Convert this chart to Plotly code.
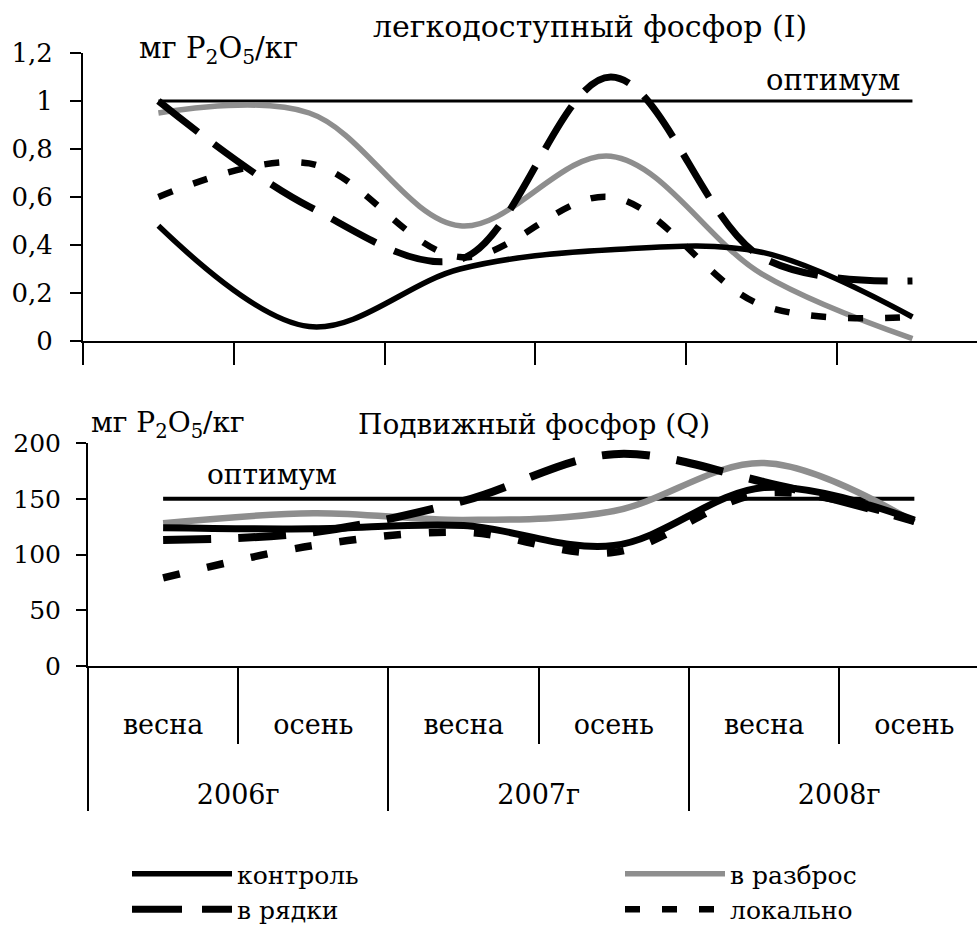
import plotly.graph_objects as go

# ---------------- data ----------------
seasons = ["весна", "осень", "весна", "осень", "весна", "осень"]
years = ["2006г", "2006г", "2007г", "2007г", "2008г", "2008г"]

# легкодоступный фосфор (I), мг P2O5/кг
control_I = [0.48, 0.06, 0.30, 0.38, 0.37, 0.10]
rows_I = [1.00, 0.56, 0.34, 1.10, 0.35, 0.25]
broadcast_I = [0.95, 0.95, 0.48, 0.77, 0.28, 0.01]
local_I = [0.60, 0.74, 0.35, 0.60, 0.15, 0.10]
optimum_I = [1, 1, 1, 1, 1, 1]

# Подвижный фосфор (Q), мг P2O5/кг
control_Q = [124, 123, 126, 108, 160, 131]
rows_Q = [113, 120, 148, 190, 165, 130]
broadcast_Q = [128, 137, 131, 139, 182, 129]
local_Q = [79, 108, 120, 102, 155, 130]
optimum_Q = [150, 150, 150, 150, 150, 150]

# ---------------- figure ----------------
W, H = 977, 928
FONT = "DejaVu Serif"

def py(p):
    return 1 - p / H

def px(p):
    return p / W

x_top = list(range(len(seasons)))
# outer (year) labels sit two text lines lower than the season labels
year_labels = ["<br><br>" + y for y in years]
x_bot = [year_labels, seasons]

GREY = "#8e8e8e"

fig = go.Figure()

styles_top = {
    "контроль": dict(color="black", width=5.5, dash="solid"),
    "в разброс": dict(color=GREY, width=5.5, dash="solid"),
    "в рядки": dict(color="black", width=7, dash="50px,20px"),
    "локально": dict(color="black", width=6.5, dash="15px,22px"),
}
styles_bot = {
    "контроль": dict(color="black", width=7, dash="solid"),
    "в разброс": dict(color=GREY, width=6.5, dash="solid"),
    "в рядки": dict(color="black", width=8, dash="48px,27px"),
    "локально": dict(color="black", width=7.5, dash="17px,28px"),
}
data_top = {"контроль": control_I, "в разброс": broadcast_I, "в рядки": rows_I, "локально": local_I}
data_bot = {"контроль": control_Q, "в разброс": broadcast_Q, "в рядки": rows_Q, "локально": local_Q}
legend_of = {"контроль": "legend", "в рядки": "legend", "в разброс": "legend2", "локально": "legend2"}
rank = {"контроль": 1, "в рядки": 2, "в разброс": 1, "локально": 2}

# optimum lines
fig.add_trace(go.Scatter(x=x_top, y=optimum_I, mode="lines", line=dict(color="black", width=3),
                         showlegend=False, xaxis="x", yaxis="y", hoverinfo="skip"))
fig.add_trace(go.Scatter(x=x_bot, y=optimum_Q, mode="lines", line=dict(color="black", width=4),
                         showlegend=False, xaxis="x2", yaxis="y2", hoverinfo="skip"))

draw_order = ["в разброс", "контроль", "в рядки", "локально"]
for name in draw_order:
    fig.add_trace(go.Scatter(
        x=x_top, y=data_top[name], mode="lines", name=name,
        line=dict(shape="spline", smoothing=1, **styles_top[name]),
        legendgroup=name, legendrank=rank[name], legend=legend_of[name], showlegend=True,
        xaxis="x", yaxis="y"))
    fig.add_trace(go.Scatter(
        x=x_bot, y=data_bot[name], mode="lines", name=name,
        line=dict(shape="spline", smoothing=1, **styles_bot[name]),
        legendgroup=name, legend=legend_of[name], showlegend=False,
        xaxis="x2", yaxis="y2"))

axis_common = dict(showline=True, linecolor="black", linewidth=2, showgrid=False, zeroline=False,
                   ticks="outside", tickcolor="black", tickwidth=2, automargin=False)

ITEMW = 100
legend_common = dict(orientation="v", yanchor="top", xanchor="left", traceorder="normal",
                     tracegroupgap=0, itemwidth=ITEMW, font=dict(size=25, family=FONT),
                     bgcolor="rgba(0,0,0,0)", borderwidth=0)

fig.update_layout(
    width=W, height=H,
    margin=dict(l=0, r=0, t=0, b=0, autoexpand=False),
    paper_bgcolor="white", plot_bgcolor="white",
    separators=", ",
    font=dict(family=FONT, color="black", size=26),
    xaxis=dict(domain=[px(83), 1], range=[-0.5, 5.428], anchor="y",
               tickmode="array", tickvals=[-0.5, 0.5, 1.5, 2.5, 3.5, 4.5, 5.5],
               showticklabels=False, ticklen=22, **axis_common),
    yaxis=dict(domain=[py(341), py(53)], range=[0, 1.2], anchor="x",
               tick0=0, dtick=0.2, ticklen=11, ticklabelstandoff=12,
               tickfont=dict(size=26, family=FONT), **axis_common),
    xaxis2=dict(type="multicategory", domain=[px(88), 1], range=[-0.5, 5.417], anchor="y2",
                tickson="boundaries", ticklen=76, ticklabelstandoff=34,
                showdividers=True, dividercolor="black", dividerwidth=2,
                tickfont=dict(size=27, family=FONT), **axis_common),
    yaxis2=dict(domain=[py(666), py(443)], range=[0, 200], anchor="x2",
                tick0=0, dtick=50, ticklen=10, ticklabelstandoff=10,
                tickfont=dict(size=25, family=FONT), **axis_common),
    legend=dict(x=px(237 - ITEMW - 10), y=py(851), **legend_common),
    legend2=dict(x=px(730 - ITEMW - 10), y=py(851), **legend_common),
    showlegend=True,
)

def note(text, x, y, size):
    fig.add_annotation(text=text, x=px(x), y=py(y), xref="paper", yref="paper",
                       xanchor="center", yanchor="middle", showarrow=False,
                       font=dict(size=size, family=FONT, color="black"))

note("мг P<sub>2</sub>O<sub>5</sub>/кг", 218, 50, 29)
note("легкодоступный фосфор (I)", 590, 27, 30)
note("оптимум", 833, 80, 29)
note("мг P<sub>2</sub>O<sub>5</sub>/кг", 168, 424, 28)
note("Подвижный фосфор (Q)", 534, 424, 28)
note("оптимум", 272, 474, 28)

fig.write_html(
    "out.html",
    config={"displayModeBar": False},
    post_script="document.body.style.margin='0';document.body.style.overflow='hidden';",
)
